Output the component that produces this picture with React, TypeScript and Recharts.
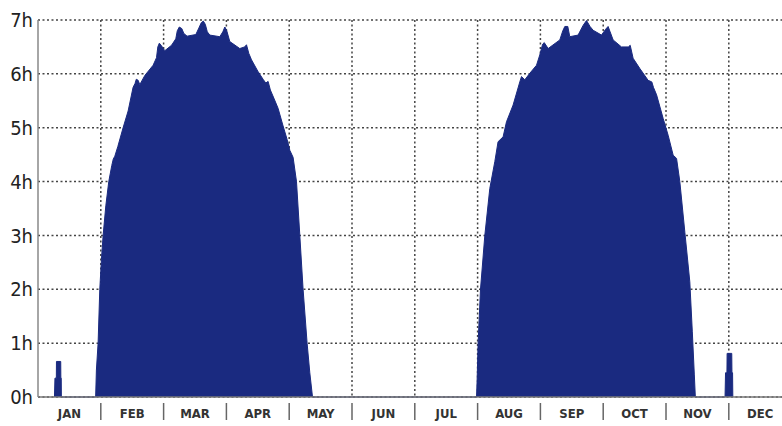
import { AreaChart, Area, XAxis, YAxis, CartesianGrid } from "recharts"

const MONTHS = ["JAN", "FEB", "MAR", "APR", "MAY", "JUN", "JUL", "AUG", "SEP", "OCT", "NOV", "DEC"]
const HOUR_TICKS = [0, 1, 2, 3, 4, 5, 6, 7]
const MONTH_BOUNDS = [1, 2, 3, 4, 5, 6, 7, 8, 9, 10, 11]

// x is in month units (0 = Jan 1, 1 = Feb 1, ...), y is hours of sun
const janBlipPos = [0.262, 0.27, 0.292, 0.294, 0.362, 0.364, 0.37, 0.372]
const janBlipHours = [0, 0.35, 0.35, 0.66, 0.66, 0.35, 0.35, 0]

const springPos = [
  0.918, 0.93, 0.957, 0.984, 1.01, 1.037, 1.08, 1.127, 1.175, 1.199, 1.223, 1.271, 1.355, 1.435,
  1.514, 1.545, 1.565, 1.595, 1.621, 1.701, 1.833, 1.887, 1.908, 1.932, 1.967, 2.019, 2.126, 2.194,
  2.218, 2.25, 2.29, 2.322, 2.374, 2.513, 2.561, 2.6, 2.632, 2.664, 2.696, 2.736, 2.895, 2.943,
  2.975, 3.006, 3.054, 3.213, 3.29, 3.32, 3.357, 3.4, 3.5, 3.584, 3.627, 3.664, 3.7, 3.755, 3.823,
  3.898, 3.967, 4.01, 4.062, 4.116, 4.169, 4.221, 4.285, 4.328, 4.371,
]
const springHours = [
  0, 0.5, 1.0, 2.0, 2.55, 3.0, 3.55, 4.0, 4.3, 4.42, 4.47, 4.65, 5.0, 5.31,
  5.75, 5.82, 5.9, 5.88, 5.8, 5.97, 6.16, 6.3, 6.5, 6.57, 6.52, 6.43, 6.53, 6.65,
  6.8, 6.87, 6.84, 6.75, 6.7, 6.73, 6.85, 6.95, 6.98, 6.92, 6.78, 6.72, 6.69, 6.78,
  6.87, 6.8, 6.6, 6.47, 6.5, 6.54, 6.38, 6.26, 6.05, 5.9, 5.83, 5.86, 5.7, 5.55, 5.36,
  5.05, 4.78, 4.58, 4.45, 4.0, 3.0, 2.0, 1.0, 0.45, 0,
]

const autumnPos = [
  6.983, 6.992, 7.008, 7.046, 7.115, 7.194, 7.274, 7.326, 7.406, 7.46, 7.565, 7.672, 7.699, 7.752,
  7.831, 7.938, 7.99, 8.035, 8.061, 8.123, 8.309, 8.357, 8.389, 8.436, 8.468, 8.6, 8.68, 8.734,
  8.79, 8.839, 8.973, 9.04, 9.078, 9.11, 9.158, 9.291, 9.4, 9.43, 9.476, 9.583, 9.715, 9.774,
  9.8, 9.85, 9.955, 10.034, 10.114, 10.168, 10.22, 10.3, 10.379, 10.419, 10.451, 10.467,
]
const autumnHours = [
  0, 0.3, 1.0, 2.0, 3.0, 3.87, 4.37, 4.74, 4.83, 5.11, 5.42, 5.85, 5.95, 5.89,
  6.01, 6.16, 6.35, 6.55, 6.58, 6.47, 6.63, 6.8, 6.88, 6.88, 6.69, 6.72, 6.9, 6.99,
  6.88, 6.81, 6.72, 6.83, 6.88, 6.78, 6.63, 6.5, 6.5, 6.53, 6.29, 6.1, 5.88, 5.85,
  5.75, 5.61, 5.17, 4.86, 4.49, 4.43, 4.0, 3.06, 2.14, 1.21, 0.41, 0,
]

const novBlipPos = [10.94, 10.948, 10.97, 10.973, 11.047, 11.05, 11.06, 11.064]
const novBlipHours = [0, 0.45, 0.45, 0.81, 0.81, 0.45, 0.45, 0]

const toRows = (pos: number[], hrs: number[]) => pos.map((p, i) => ({ pos: p, hours: hrs[i] }))

const data = [
  ...toRows(janBlipPos, janBlipHours),
  ...toRows(springPos, springHours),
  ...toRows(autumnPos, autumnHours),
  ...toRows(novBlipPos, novBlipHours),
]

const xTicks = MONTHS.flatMap((_, i) => (i === 0 ? [0.5] : [i, i + 0.5]))

const FILL = "#1a2a80"

function MonthTick({ x, y, payload }: any) {
  const v = payload.value as number
  if (Number.isInteger(v)) {
    return <line x1={x} x2={x} y1={y + 6} y2={y + 23} stroke="#666" strokeWidth={1.5} />
  }
  return (
    <text
      x={x}
      y={y + 21}
      textAnchor="middle"
      fontFamily="DejaVu Sans Condensed"
      fontWeight="bold"
      fontSize={13}
      fill="#333"
    >
      {MONTHS[Math.floor(v)]}
    </text>
  )
}

export default function App() {
  return (
    <div style={{ position: "absolute", left: 0, top: 0, background: "#fff" }}>
      <AreaChart width={782} height={426} data={data} margin={{ top: 20, right: 0, left: 0, bottom: 0 }}>
        <CartesianGrid stroke="#444" strokeWidth={1.5} strokeDasharray="2 2.5" verticalValues={MONTH_BOUNDS} />
        <XAxis
          dataKey="pos"
          type="number"
          domain={[0, 11.847]}
          allowDataOverflow
          ticks={xTicks}
          interval={0}
          tick={<MonthTick />}
          tickLine={false}
          tickSize={0}
          tickMargin={0}
          height={29}
          axisLine={{ stroke: "#777", strokeWidth: 1.5 }}
        />
        <YAxis
          domain={[0, 7]}
          ticks={HOUR_TICKS}
          interval={0}
          width={38}
          tickFormatter={(v) => `${v}h`}
          tick={{ fill: "#222", fontSize: 20, fontFamily: "DejaVu Sans Condensed" }}
          tickLine={false}
          tickSize={0}
          tickMargin={5}
          axisLine={{ stroke: "#888", strokeWidth: 1.5 }}
        />
        <Area
          type="linear"
          dataKey="hours"
          stroke={FILL}
          strokeWidth={1}
          fill={FILL}
          fillOpacity={1}
          dot={false}
          activeDot={false}
          isAnimationActive={false}
        />
      </AreaChart>
    </div>
  )
}
